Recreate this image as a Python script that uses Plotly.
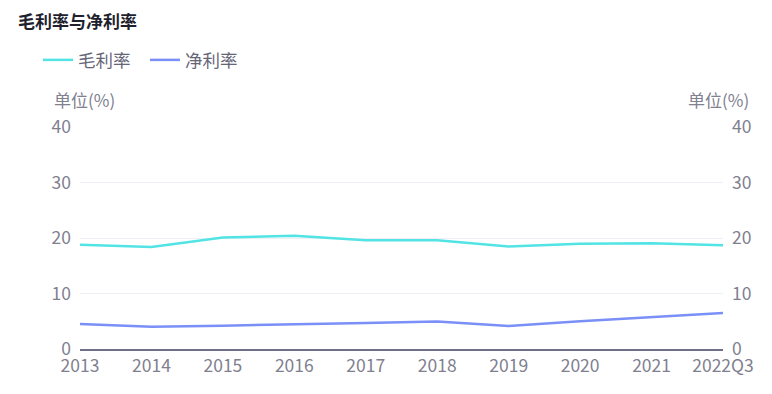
import plotly.graph_objects as go

categories = ["2013", "2014", "2015", "2016", "2017", "2018", "2019", "2020", "2021", "2022Q3"]
gross_margin = [18.8, 18.4, 20.1, 20.4, 19.6, 19.6, 18.45, 18.95, 19.05, 18.7]
net_margin = [4.5, 4.0, 4.2, 4.5, 4.7, 4.95, 4.15, 5.0, 5.7, 6.5]
y_ticks = [0, 10, 20, 30, 40]

FONT = "Noto Sans CJK SC"
TICK_COLOR = "#80808f"

W, H = 772, 394
L, R, T, B = 80, 49, 127, 45
PW, PH = W - L - R, H - T - B


def px_x(px):
    return (px - L) / PW


def px_y(py):
    return (H - B - py) / PH


fig = go.Figure()
fig.add_trace(go.Scatter(x=categories, y=gross_margin, name="毛利率", mode="lines",
                         line=dict(color="#52e4e4", width=2.5)))
fig.add_trace(go.Scatter(x=categories, y=net_margin, name="净利率", mode="lines",
                         line=dict(color="#7a8ff7", width=2.5), yaxis="y2"))

fig.update_layout(
    width=W, height=H,
    margin=dict(l=L, r=R, t=T, b=B, autoexpand=False),
    paper_bgcolor="white", plot_bgcolor="white",
    font=dict(family=FONT, color=TICK_COLOR, size=17),
    title=dict(text="<b>毛利率与净利率</b>", xref="container", yref="container",
               x=18 / W, xanchor="left", y=1 - 22 / H, yanchor="middle",
               font=dict(size=17, color="#1f1f2e", family=FONT)),
    showlegend=True,
    legend=dict(orientation="h", xref="container", yref="container",
                x=38 / W, xanchor="left", y=1 - 60 / H, yanchor="middle",
                font=dict(size=17.5, color="#666677", family=FONT), itemwidth=30,
                entrywidth=62, bgcolor="rgba(0,0,0,0)"),
    xaxis=dict(type="category", range=[0, len(categories) - 1], showgrid=False,
               showline=True, linecolor="#6e7089", linewidth=2, ticks="",
               tickfont=dict(size=17.5, color=TICK_COLOR), zeroline=False, automargin=False),
    yaxis=dict(range=[0, 40], tickvals=y_ticks, showgrid=True, gridcolor="#eef0f6", gridwidth=1,
               zeroline=False, showline=False, ticks="", ticklabelstandoff=8, automargin=False,
               tickfont=dict(size=17.5, color=TICK_COLOR)),
    yaxis2=dict(range=[0, 40], tickvals=y_ticks, overlaying="y", side="right", showgrid=False,
                zeroline=False, showline=False, ticks="", ticklabelstandoff=8, automargin=False,
                tickfont=dict(size=17.5, color=TICK_COLOR)),
    annotations=[
        dict(text="单位(%)", xref="paper", yref="paper", x=px_x(52), y=px_y(100),
             xanchor="left", yanchor="middle", showarrow=False,
             font=dict(size=17, color=TICK_COLOR, family=FONT)),
        dict(text="单位(%)", xref="paper", yref="paper", x=px_x(751), y=px_y(100),
             xanchor="right", yanchor="middle", showarrow=False,
             font=dict(size=17, color=TICK_COLOR, family=FONT)),
    ],
)

fig.write_html("out.html", post_script="document.body.style.margin='0';",
               config={"displayModeBar": False})
